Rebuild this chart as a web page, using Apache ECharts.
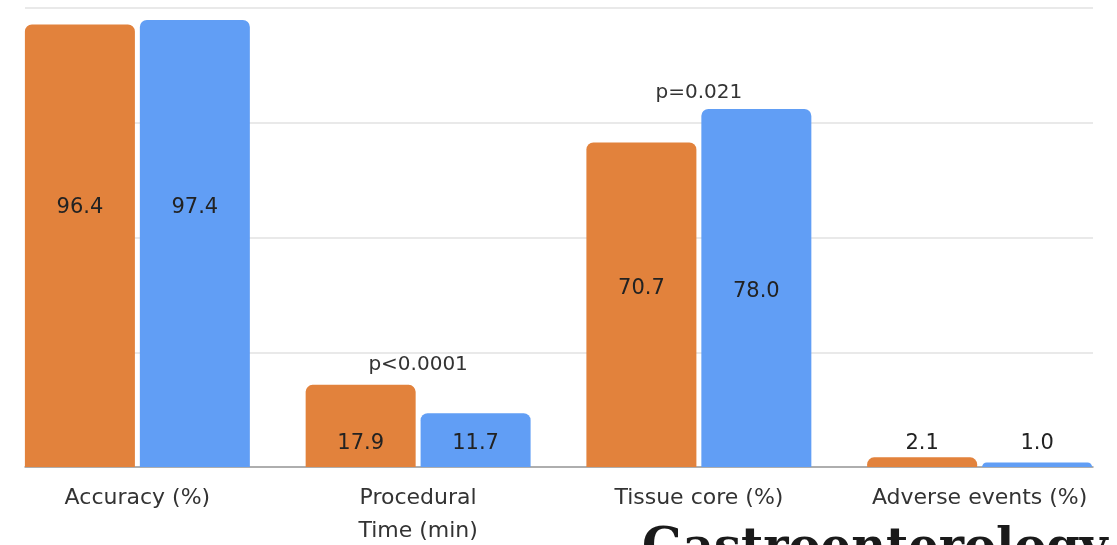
<!DOCTYPE html>
<html>
<head>
<meta charset="utf-8">
<script src="https://cdn.jsdelivr.net/npm/echarts@6/dist/echarts.min.js"></script>
<style>
html,body{margin:0;padding:0;background:#fff;}
#c{width:1117px;height:545px;}
</style>
</head>
<body>
<div id="c"></div>
<script>
// ---- data ----
const categories = ['Accuracy (%)', 'Procedural\nTime (min)', 'Tissue core (%)', 'Adverse events (%)'];
const seriesA = [96.4, 17.9, 70.7, 2.1];   // orange
const seriesB = [97.4, 11.7, 78.0, 1.0];   // blue
const valueTicks = [0, 25, 50, 75, 100];
const annotations = [
  { category: 1, text: 'p<0.0001' },
  { category: 2, text: 'p=0.021' }
];
const watermark = 'Gastroenterology';

// ---- styling / layout ----
const ORANGE = '#E2823C';
const BLUE = '#619EF5';
const FONT = 'DejaVu Sans';
// label placement inside each bar (fraction of bar height from top), 'top' = above bar
const labelPlaceA = [0.414, 0.71, 0.45, 'top'];
const labelPlaceB = [0.42, 0.56, 0.51, 'top'];
const topDistA = 3, topDistB = 8;
const annotGap = [20, 16];

function buildData(vals, place, topDist) {
  return vals.map((v, i) => {
    const p = place[i];
    const label = p === 'top'
      ? { position: 'top', distance: topDist }
      : { position: ['50%', (p * 100) + '%'], align: 'center', verticalAlign: 'middle' };
    return { value: v, label: label };
  });
}

const chart = echarts.init(document.getElementById('c'), null, { renderer: 'canvas' });

const labelCommon = {
  show: true,
  fontFamily: FONT,
  fontSize: 21,
  color: '#222',
  formatter: p => p.value.toFixed(1)
};

const option = {
  animation: false,
  grid: [
    { left: -3, right: -3, top: 8, bottom: 78, outerBoundsMode: 'none', containLabel: false },
    { left: 25, right: 24, top: 8, bottom: 78, outerBoundsMode: 'none', containLabel: false }
  ],
  xAxis: [
    {
      type: 'category', gridIndex: 0, data: categories,
      axisLine: { show: false }, axisTick: { show: false },
      axisLabel: { fontFamily: FONT, fontSize: 22, color: '#333', margin: 15, lineHeight: 33, interval: 0 }
    },
    {
      type: 'value', gridIndex: 1, min: 0, max: 1,
      axisLine: { show: true, lineStyle: { color: '#9a9a9a', width: 1.5 } },
      axisTick: { show: false }, axisLabel: { show: false }, splitLine: { show: false }
    }
  ],
  yAxis: [
    {
      type: 'value', gridIndex: 0, min: valueTicks[0], max: valueTicks[valueTicks.length - 1],
      interval: valueTicks[1] - valueTicks[0],
      axisLine: { show: false }, axisTick: { show: false }, axisLabel: { show: false },
      splitLine: { show: false }
    },
    {
      type: 'value', gridIndex: 1, min: valueTicks[0], max: valueTicks[valueTicks.length - 1],
      interval: valueTicks[1] - valueTicks[0],
      axisLine: { show: false }, axisTick: { show: false }, axisLabel: { show: false },
      splitLine: { show: true, lineStyle: { color: '#e2e2e2', width: 1.5 } }
    }
  ],
  series: [
    {
      type: 'bar', xAxisIndex: 0, yAxisIndex: 0,
      data: buildData(seriesA, labelPlaceA, topDistA),
      barWidth: 110, barGap: '4.5%',
      itemStyle: { color: ORANGE, borderRadius: [7, 7, 0, 0] },
      label: labelCommon, z: 3
    },
    {
      type: 'bar', xAxisIndex: 0, yAxisIndex: 0,
      data: buildData(seriesB, labelPlaceB, topDistB),
      barWidth: 110,
      itemStyle: { color: BLUE, borderRadius: [7, 7, 0, 0] },
      label: labelCommon, z: 3
    },
    { type: 'line', xAxisIndex: 1, yAxisIndex: 1, data: [], silent: true }
  ]
};
chart.setOption(option);

// annotations above the taller bar of each category, plus the cropped journal watermark
const graphics = annotations.map((a, k) => {
  const top = Math.max(seriesA[a.category], seriesB[a.category]);
  const pt = chart.convertToPixel({ xAxisIndex: 0, yAxisIndex: 0 }, [a.category, top]);
  return {
    type: 'text', x: pt[0], y: pt[1] - annotGap[k],
    style: { text: a.text, fontFamily: FONT, fontSize: 20, fill: '#333', align: 'center', verticalAlign: 'middle' },
    z: 10
  };
});
graphics.push({
  type: 'text', x: 642, y: 526,
  style: { text: watermark, fontFamily: 'DejaVu Serif', fontSize: 48, fontWeight: 'bold', fill: '#1a1a1a', align: 'left', verticalAlign: 'top' },
  z: 10
});
chart.setOption({ graphic: graphics });
</script>
</body>
</html>
